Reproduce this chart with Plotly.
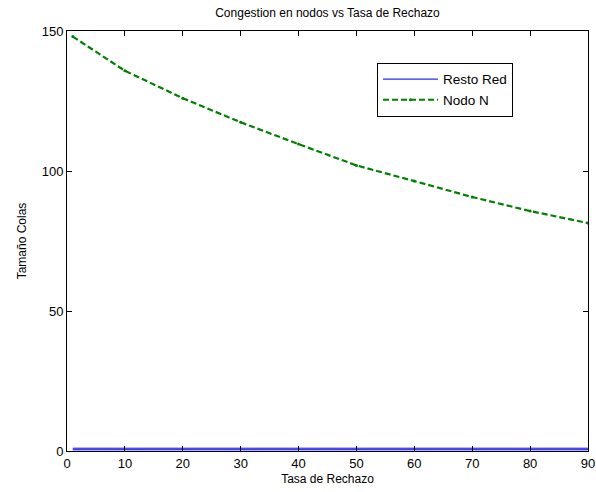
import plotly.graph_objects as go

x_nodo = [1, 10, 20, 30, 40, 50, 60, 70, 80, 90]
y_nodo = [148.0, 135.8, 126.0, 117.4, 109.6, 102.0, 96.4, 90.7, 85.7, 81.4]
x_resto = [1, 10, 20, 30, 40, 50, 60, 70, 80, 90]
y_resto = [0.7, 0.7, 0.7, 0.7, 0.7, 0.7, 0.7, 0.7, 0.7, 0.7]

x_ticks = [0, 10, 20, 30, 40, 50, 60, 70, 80, 90]
y_ticks = [0, 50, 100, 150]

fig = go.Figure()
fig.add_trace(go.Scatter(x=x_resto, y=y_resto, mode="lines", showlegend=False,
                         hoverinfo="skip",
                         line=dict(color="rgb(110,110,240)", width=3)))
fig.add_trace(go.Scatter(x=x_resto, y=y_resto, mode="lines", name="Resto Red",
                         line=dict(color="rgb(40,40,255)", width=1.2)))
fig.add_trace(go.Scatter(x=x_nodo, y=y_nodo, mode="lines+markers", name="Nodo N",
                         line=dict(color="rgb(0,128,0)", width=2.2, dash="6px,3px"),
                         marker=dict(size=3, color="rgb(0,128,0)")))

font = "Liberation Sans, Arial, sans-serif"
axis_common = dict(showline=True, linecolor="black", linewidth=1, mirror="ticks",
                   ticks="inside", ticklen=5, tickcolor="black", showgrid=False,
                   zeroline=False, automargin=False,
                   tickfont=dict(family=font, size=13, color="black"))

fig.update_layout(
    width=596, height=492,
    margin=dict(l=67, r=8, t=31, b=41),
    paper_bgcolor="white", plot_bgcolor="white",
    title=dict(text="Congestion en nodos vs Tasa de Rechazo", x=0.5, xref="paper",
               y=0.975, yanchor="middle",
               font=dict(family=font, size=12, color="black")),
    xaxis=dict(range=[0, 90], tickvals=x_ticks,
               title=dict(text="Tasa de Rechazo", standoff=5,
                          font=dict(family=font, size=12, color="black")),
               **axis_common),
    yaxis=dict(range=[0, 150], tickvals=y_ticks,
               title=dict(text="Tamaño Colas", standoff=12,
                          font=dict(family=font, size=12, color="black")),
               **axis_common),
    legend=dict(x=0.595, y=0.924, xanchor="left", yanchor="top",
                bordercolor="black", borderwidth=1, bgcolor="white",
                font=dict(family=font, size=13.5, color="black"),
                itemwidth=55, tracegroupgap=0),
    showlegend=True,
)

fig.write_html("out.html", config={"displayModeBar": False},
               post_script="document.body.style.margin='0';document.body.style.overflow='hidden';")
